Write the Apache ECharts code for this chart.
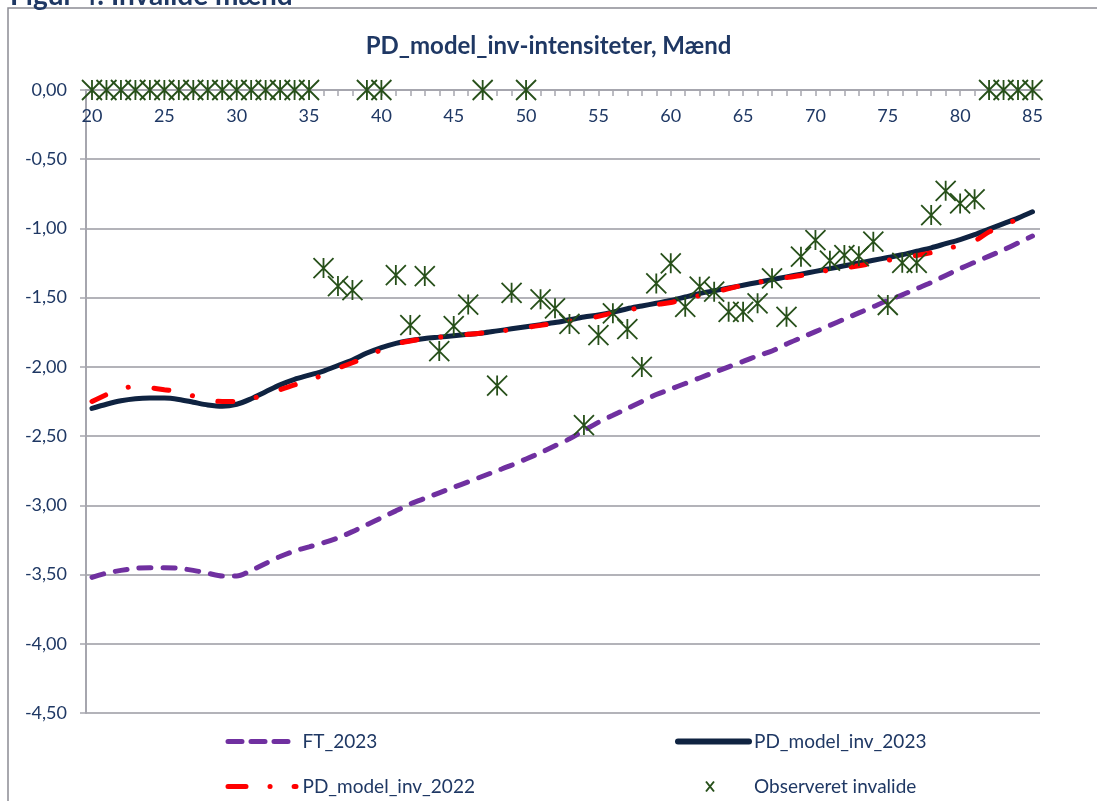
<!DOCTYPE html>
<html>
<head>
<meta charset="utf-8">
<script src="https://cdn.jsdelivr.net/npm/echarts@6/dist/echarts.min.js"></script>
<style>
html,body{margin:0;padding:0;background:#fff;}
#chart{width:1097px;height:801px;}
</style>
</head>
<body>
<div id="chart"></div>
<script>
// ---- data ----
const ages = [20,21,22,23,24,25,26,27,28,29,30,31,32,33,34,35,36,37,38,39,40,41,42,43,44,45,46,47,48,49,50,51,52,53,54,55,56,57,58,59,60,61,62,63,64,65,66,67,68,69,70,71,72,73,74,75,76,77,78,79,80,81,82,83,84,85];

const ft2023 = [-3.52,-3.49,-3.47,-3.455,-3.45,-3.45,-3.455,-3.47,-3.49,-3.51,-3.51,-3.47,-3.42,-3.37,-3.33,-3.30,-3.27,-3.235,-3.19,-3.14,-3.09,-3.04,-2.99,-2.95,-2.91,-2.87,-2.83,-2.79,-2.75,-2.71,-2.665,-2.62,-2.57,-2.52,-2.46,-2.40,-2.35,-2.30,-2.25,-2.20,-2.16,-2.12,-2.08,-2.04,-2.00,-1.96,-1.92,-1.885,-1.835,-1.79,-1.745,-1.70,-1.655,-1.61,-1.565,-1.52,-1.48,-1.435,-1.39,-1.34,-1.29,-1.245,-1.20,-1.155,-1.105,-1.055];

const pd2023 = [-2.30,-2.27,-2.245,-2.23,-2.225,-2.225,-2.235,-2.255,-2.275,-2.285,-2.27,-2.23,-2.18,-2.13,-2.09,-2.06,-2.03,-1.99,-1.95,-1.90,-1.86,-1.83,-1.81,-1.795,-1.785,-1.775,-1.765,-1.755,-1.74,-1.725,-1.71,-1.695,-1.68,-1.66,-1.64,-1.625,-1.605,-1.58,-1.56,-1.54,-1.52,-1.495,-1.47,-1.45,-1.43,-1.41,-1.39,-1.37,-1.35,-1.33,-1.31,-1.29,-1.27,-1.25,-1.23,-1.21,-1.19,-1.165,-1.14,-1.11,-1.08,-1.045,-1.005,-0.965,-0.925,-0.88];

const pd2022 = [-2.25,-2.20,-2.16,-2.14,-2.15,-2.165,-2.18,-2.21,-2.24,-2.25,-2.25,-2.23,-2.20,-2.165,-2.13,-2.10,-2.055,-2.01,-1.97,-1.93,-1.875,-1.835,-1.813,-1.795,-1.785,-1.775,-1.765,-1.755,-1.745,-1.73,-1.715,-1.70,-1.685,-1.67,-1.655,-1.635,-1.61,-1.59,-1.57,-1.55,-1.535,-1.51,-1.485,-1.46,-1.435,-1.41,-1.39,-1.37,-1.355,-1.34,-1.32,-1.30,-1.285,-1.27,-1.25,-1.23,-1.215,-1.195,-1.175,-1.15,-1.12,-1.09,-1.025,-0.98,-0.93,-0.88];

const observed = [0,0,0,0,0,0,0,0,0,0,0,0,0,0,0,0,-1.286,-1.416,-1.445,0,0,-1.337,-1.698,-1.344,-1.886,-1.705,-1.55,0,-2.135,-1.465,0,-1.512,-1.577,-1.69,-2.42,-1.77,-1.613,-1.727,-2.0,-1.397,-1.252,-1.566,-1.421,-1.457,-1.602,-1.602,-1.541,-1.36,-1.638,-1.204,-1.084,-1.233,-1.192,-1.2,-1.096,-1.553,-1.248,-1.248,-0.903,-0.728,-0.819,-0.79,0,0,0,0];

const xTicks = ages.slice();
const xLabels = [20,25,30,35,40,45,50,55,60,65,70,75,80,85];
const seriesNames = ['FT_2023','PD_model_inv_2023','PD_model_inv_2022','Observeret invalide'];
const titleText = 'PD_model_inv-intensiteter, Mænd';
const captionText = 'Figur 4: Invalide mænd';

// ---- chart ----
const pair = (vals) => ages.map((a, i) => [a, vals[i]]);
const navy = '#1f3864';
const green = '#27501a';
const starPath = 'path://M0,-10L0,10M-10,-10L10,10M-10,10L10,-10';
const xPath = 'path://M-4,-5L4,5M-4,5L4,-5';
const font = 'Lato, "Open Sans", sans-serif';

const chart = echarts.init(document.getElementById('chart'), null, {renderer: 'canvas'});
function legendItem(name, left, top, itemWidth, pad, lineStyle, extra) {
  return Object.assign({
    data: [name],
    left: left, top: top,
    itemWidth: itemWidth, itemHeight: 14,
    selectedMode: false,
    textStyle: {color: navy, fontSize: 19, fontFamily: font, padding: [0, 0, 0, pad]},
    itemStyle: {opacity: 0},
    lineStyle: lineStyle
  }, extra || {});
}
chart.setOption({
  animation: false,
  backgroundColor: '#fff',
  title: {
    text: titleText,
    left: 'center',
    top: 29,
    textStyle: {color: navy, fontSize: 24, fontWeight: 'bold', fontFamily: font}
  },
  graphic: [
    {type: 'rect', shape: {x: 8, y: 8, width: 1300, height: 1000}, style: {fill: 'none', stroke: '#8c8c94', lineWidth: 1.5}, z: -1},
    {type: 'text', x: 10, y: 10, style: {text: captionText, fill: navy, font: 'bold 28px ' + font, verticalAlign: 'bottom'}}
  ],
  grid: {left: 86, right: 57, top: 90, bottom: 88, containLabel: false},
  legend: [
    legendItem(seriesNames[0], 220.5, 727, 62, 7.5, {color: '#7030a0', width: 5, type: [14, 9], cap: 'round'}),
    legendItem(seriesNames[1], 670, 727, 71, 0, {color: '#0f2341', width: 6, type: 'solid', cap: 'round'}),
    legendItem(seriesNames[2], 220.5, 772, 68, 1.5, {color: '#ff0000', width: 5, type: [18, 24, 0.1, 24], cap: 'round'}),
    {
      data: [{name: seriesNames[3], icon: xPath}],
      left: 700, top: 772, itemWidth: 8, itemHeight: 10, selectedMode: false,
      textStyle: {color: navy, fontSize: 19, fontFamily: font, padding: [0, 0, 0, 35]},
      itemStyle: {color: 'rgba(0,0,0,0)', borderColor: green, borderWidth: 2, opacity: 1}
    }
  ],
  xAxis: {
    type: 'value',
    position: 'top',
    min: 19.585,
    max: 85.52,
    axisLine: {onZero: false, lineStyle: {color: '#a6a6ae', width: 2}},
    axisTick: {show: true, inside: true, customValues: xTicks, length: 6, lineStyle: {color: '#a6a6ae', width: 1.5}},
    axisLabel: {inside: true, customValues: xLabels, color: navy, fontSize: 18, fontFamily: font, margin: 17},
    splitLine: {show: false}
  },
  yAxis: {
    type: 'value',
    min: -4.5,
    max: 0,
    interval: 0.5,
    axisLine: {show: true, lineStyle: {color: '#a6a6ae', width: 2}},
    axisTick: {show: true, length: 6, lineStyle: {color: '#a6a6ae', width: 1.5}},
    axisLabel: {color: navy, fontSize: 18, fontFamily: font, margin: 19,
      formatter: (v) => v.toFixed(2).replace('.', ',')},
    splitLine: {show: true, lineStyle: {color: '#9a9aa2', width: 1.5}}
  },
  series: [
    {name: seriesNames[0], type: 'line', data: pair(ft2023), smooth: 0.3, symbol: 'none',
      lineStyle: {color: '#7030a0', width: 5, type: [12, 12], cap: 'round'}, itemStyle: {color: '#7030a0'}, z: 2},
    {name: seriesNames[1], type: 'line', data: pair(pd2023), smooth: 0.3, symbol: 'none',
      lineStyle: {color: '#0f2341', width: 5, cap: 'round'}, itemStyle: {color: '#0f2341'}, z: 3},
    {name: seriesNames[2], type: 'line', data: pair(pd2022), smooth: 0.3, symbol: 'none',
      lineStyle: {color: '#ff0000', width: 5, type: [15, 24, 0.1, 26], cap: 'round'}, itemStyle: {color: '#ff0000'}, z: 4},
    {name: seriesNames[3], type: 'scatter', data: pair(observed), symbol: starPath, symbolSize: 20,
      itemStyle: {color: 'rgba(0,0,0,0)', borderColor: green, borderWidth: 1.8, opacity: 1}, z: 5}
  ]
});
</script>
</body>
</html>
